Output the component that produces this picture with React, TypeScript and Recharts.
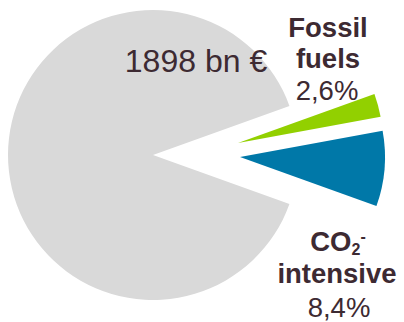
import { PieChart, Pie, Cell } from 'recharts'

// shares of the 1898 bn € total, in %
const sliceNames = ['Other', 'CO2-intensive', 'Fossil fuels']
const sliceShares = [89.0, 8.4, 2.6]
const sliceColors = ['#d9d9d9', '#0078a8', '#92d000']

const data = sliceNames.map((name, i) => ({ name, value: sliceShares[i] }))

const TEXT = '#3d2a32'
const FONT = '"Liberation Sans", Arial, sans-serif'

// grey main pie plus two exploded slices, each drawn by its own Pie
const pies = [
  { show: 0, cx: 153, cy: 155 },
  { show: 1, cx: 240, cy: 157 },
  { show: 2, cx: 238, cy: 143 },
]

export default function App() {
  return (
    <div style={{ position: 'absolute', left: 0, top: 0, width: 404, height: 322, background: '#fff' }}>
      <PieChart width={404} height={322} margin={{ top: 0, right: 0, bottom: 0, left: 0 }}>
        {pies.map(p => (
          <Pie
            key={p.show}
            data={data}
            dataKey="value"
            nameKey="name"
            cx={p.cx}
            cy={p.cy}
            innerRadius={0}
            outerRadius={145}
            startAngle={19.8}
            endAngle={379.8}
            stroke="none"
            isAnimationActive={false}
          >
            {data.map((d, i) => (
              <Cell key={d.name} fill={i === p.show ? sliceColors[i] : 'transparent'} stroke="none" />
            ))}
          </Pie>
        ))}
      </PieChart>
      <svg width={404} height={322} style={{ position: 'absolute', left: 0, top: 0, pointerEvents: 'none' }}>
        <g fontFamily={FONT} fill={TEXT} textAnchor="middle">
          <text x={196} y={72} fontSize={32}>1898 bn €</text>
          <text x={328} y={37} fontSize={27.5} fontWeight="bold">Fossil</text>
          <text x={328} y={68} fontSize={27.5} fontWeight="bold">fuels</text>
          <text x={327} y={100} fontSize={27.5}>2,6%</text>
          <text x={338} y={251} fontSize={27.5} fontWeight="bold">
            CO<tspan fontSize={16} dy={4}>2</tspan><tspan fontSize={16} dy={-13}>-</tspan>
          </text>
          <text x={337} y={283} fontSize={27.5} fontWeight="bold">intensive</text>
          <text x={339} y={317} fontSize={27.5}>8,4%</text>
        </g>
      </svg>
    </div>
  )
}
